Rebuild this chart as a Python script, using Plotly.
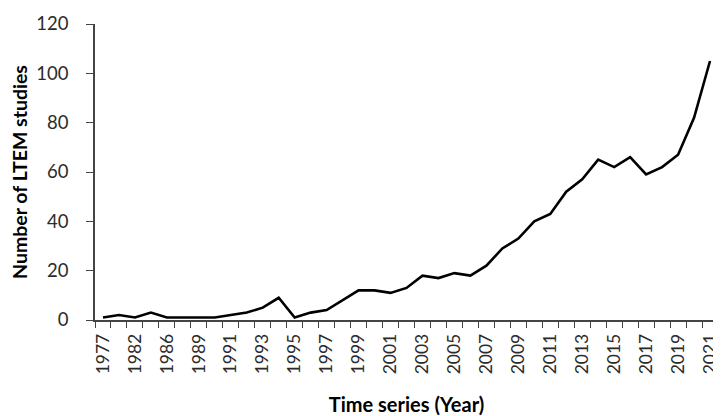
import plotly.graph_objects as go

years = [1977, 1980, 1982, 1984, 1986, 1988, 1989, 1990, 1991, 1992, 1993, 1994, 1995,
         1996, 1997, 1998, 1999, 2000, 2001, 2002, 2003, 2004, 2005, 2006, 2007, 2008,
         2009, 2010, 2011, 2012, 2013, 2014, 2015, 2016, 2017, 2018, 2019, 2020, 2021]
studies = [1, 2, 1, 3, 1, 1, 1, 1, 2, 3, 5, 9, 1,
           3, 4, 8, 12, 12, 11, 13, 18, 17, 19, 18, 22, 29,
           33, 40, 43, 52, 57, 65, 62, 66, 59, 62, 67, 82, 105]
y_ticks = [0, 20, 40, 60, 80, 100, 120]

idx = list(range(len(years)))
label_idx = idx[::2]
label_text = [str(years[i]) for i in label_idx]
bounds = [i - 0.5 for i in idx] + [idx[-1] + 0.5]

FONT = "Lato, 'Open Sans', sans-serif"
AXIS = "#444444"

fig = go.Figure()
fig.add_trace(go.Scatter(x=idx, y=studies, mode="lines",
                         line=dict(color="black", width=2.6), showlegend=False))

# the page body adds an 8px offset, so the figure is 8px smaller than the window
fig.update_layout(
    width=713, height=408,
    margin=dict(l=87, r=3, t=16, b=96),
    paper_bgcolor="white", plot_bgcolor="white",
    font=dict(family=FONT, color="#333333"),
)
fig.update_xaxes(
    range=[-0.5, len(years) - 0.5],
    tickmode="array", tickvals=label_idx, ticktext=label_text,
    tickangle=-90, tickfont=dict(size=17.5, color="#2b2b2b"), ticklabelstandoff=5,
    ticks="", showgrid=False, zeroline=False, automargin=False,
    showline=True, linecolor=AXIS, linewidth=1.5,
    minor=dict(tickmode="array", tickvals=bounds, ticks="outside", ticklen=6,
               tickcolor=AXIS, tickwidth=1.2, showgrid=False),
    title=dict(text="<b>Time series (Year)</b>", font=dict(size=20, color="black"), standoff=28),
)
fig.update_yaxes(
    range=[0, 120], tickmode="array", tickvals=y_ticks,
    ticks="outside", ticklen=7, tickcolor=AXIS, tickwidth=1.2,
    tickfont=dict(size=18.5, color="#2b2b2b"), ticklabelstandoff=14,
    showgrid=False, zeroline=False, automargin=False,
    showline=True, linecolor=AXIS, linewidth=1.5,
    title=dict(text="<b>Number of LTEM studies</b>", font=dict(size=19.5, color="black"), standoff=4),
)

fig.write_html("out.html")
